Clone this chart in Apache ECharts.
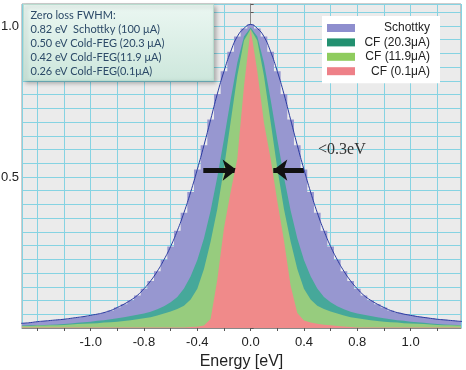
<!DOCTYPE html>
<html><head><meta charset="utf-8">
<script src="https://cdn.jsdelivr.net/npm/echarts@6/dist/echarts.min.js"></script>
<style>html,body{margin:0;padding:0;background:#fff;}#c{width:466px;height:370px;}</style>
</head><body><div id="c"></div>
<script>
const energies = [-1.75,-1.7,-1.65,-1.6,-1.55,-1.5,-1.45,-1.4,-1.35,-1.3,-1.25,-1.2,-1.15,-1.1,-1.05,-1,-0.95,-0.9,-0.85,-0.8,-0.75,-0.7,-0.65,-0.6,-0.55,-0.5,-0.45,-0.4,-0.35,-0.3,-0.25,-0.2,-0.15,-0.1,-0.05,0,
  0.05,0.1,0.15,0.2,0.25,0.3,0.35,0.4,0.45,0.5,0.55,0.6,0.65,0.7,0.75,0.8,0.85,0.9,0.95,1,1.05,1.1,1.15,1.2,1.25,1.3,1.35,1.4,1.45,1.5,1.55,1.6];
const schottky = [.015,.016,.018,.021,.023,.025,.027,.029,.032,.035,.038,.042,.046,.051,.058,.068,.079,.092,.108,.130,.156,.188,.226,.270,.322,.382,.450,.525,.605,.690,.775,.850,.915,.965,.992,1.005,
  .992,.965,.915,.850,.775,.690,.605,.525,.450,.382,.322,.270,.226,.188,.156,.130,.108,.092,.079,.068,.058,.051,.046,.042,.038,.035,.032,.029,.027,.025,.023,.021];
const cf203 = [.008,.008,.009,.009,.010,.011,.012,.013,.015,.017,.019,.021,.024,.026,.029,.032,.036,.040,.044,.048,.054,.062,.072,.085,.103,.131,.171,.225,.297,.389,.500,.625,.757,.878,.965,.995,
  .965,.878,.757,.625,.500,.389,.297,.225,.171,.131,.103,.085,.072,.062,.054,.048,.044,.040,.036,.032,.029,.026,.024,.021,.019,.017,.015,.013,.012,.011,.010,.009];
const cf119 = [.007,.007,.007,.008,.008,.009,.009,.010,.012,.013,.014,.015,.016,.018,.019,.021,.023,.026,.029,.032,.036,.041,.048,.055,.063,.074,.094,.130,.195,.286,.394,.529,.682,.835,.952,.990,
  .952,.835,.682,.529,.394,.286,.195,.130,.094,.074,.063,.055,.048,.041,.036,.032,.029,.026,.023,.021,.019,.018,.016,.015,.014,.013,.012,.010,.009,.009,.008,.008];
const cf01 = [.002,.002,.002,.002,.002,.002,.002,.002,.002,.002,.002,.002,.002,.002,.002,.002,.002,.002,.002,.002,.002,.002,.002,.002,.002,.002,.003,.004,.008,.030,.160,.330,.450,.560,.800,.990,
  .850,.680,.560,.420,.290,.140,.050,.025,.018,.014,.011,.009,.007,.005,.003,.002,.002,.002,.002,.002,.002,.002,.002,.002,.002,.002,.002,.002,.002,.002,.002,.002];
const seriesNames = ['Schottky', 'CF (20.3\u03bcA)', 'CF (11.9\u03bcA)', 'CF (0.1\u03bcA)'];
const xTickLabels = {'-1.2':'-1.0','-0.8':'-0.8','-0.4':'-0.4','0':'0.0','0.4':'0.4','0.8':'0.8','1.2':'1.0'};
const yTickLabels = {'0.5':'0.5','1':'1.0'};
const fwhmLines = ['Zero loss FWHM:', '0.82 eV  Schottky (100 \u03bcA)', '0.50 eV Cold-FEG (20.3 \u03bcA)', '0.42 eV Cold-FEG(11.9 \u03bcA)', '0.26 eV Cold-FEG(0.1\u03bcA)'];
const arrowSpans = [[[-0.355, 0.523], [-0.105, 0.523]], [[0.40, 0.523], [0.17, 0.523]]];
const arrowNote = '<0.3eV';

const pts = vals => energies.map((e, i) => [e, vals[i]]);
const fills = ['#9797d0', '#46a89a', '#97cc7e', '#f08a8a'];
const legendCols = ['#8e8ece', '#229070', '#8fcc5e', '#ee8088'];
const sans = '"Liberation Sans", Arial, sans-serif';

const chart = echarts.init(document.getElementById('c'), null, {renderer: 'canvas'});
const areaSeries = (name, vals, fill, z, step) => ({
  name, type: 'line', data: pts(vals), symbol: 'none', step: step || false,
  lineStyle: {width: 0, color: fill}, itemStyle: {color: fill},
  areaStyle: {color: fill, opacity: 1}, z
});
const series = [
  areaSeries(seriesNames[0], schottky, fills[0], 2, 'middle'),
  areaSeries(seriesNames[1], cf203, fills[1], 3),
  areaSeries(seriesNames[2], cf119, fills[2], 4),
  Object.assign(areaSeries(seriesNames[3], cf01, fills[3], 5), {
    markLine: {
      silent: true, symbol: ['none', 'arrow'], symbolSize: [16, 14], animation: false,
      lineStyle: {color: '#111', width: 5, type: 'solid'}, label: {show: false},
      data: arrowSpans.map(a => [{coord: a[0]}, {coord: a[1]}])
    }
  }),
  {name: 'fit', type: 'line', data: pts(schottky), smooth: 0.5, symbol: 'none',
   lineStyle: {color: '#2a3aa0', width: 1}, z: 6}
];

chart.setOption({
  animation: false,
  textStyle: {fontFamily: sans},
  grid: {left: 22, right: 5, top: 4, bottom: 42, containLabel: false, outerBoundsMode: 'none',
         show: true, backgroundColor: '#ebebeb', borderColor: '#9a9a9a', borderWidth: 1},
  xAxis: {
    type: 'value', min: -1.715, max: 1.578, splitNumber: 16,
    axisLine: {show: true, lineStyle: {color: '#888'}},
    axisTick: {show: true, length: 3, lineStyle: {color: '#555'}},
    splitLine: {show: true, lineStyle: {color: '#86d3e2', width: 1}},
    axisLabel: {showMinLabel: false, showMaxLabel: false, fontSize: 13, color: '#222', margin: 8,
      formatter: v => xTickLabels[String(Math.round(v * 10) / 10)] || ''},
    name: 'Energy [eV]', nameLocation: 'middle', nameGap: 25,
    nameTextStyle: {fontSize: 16, color: '#222'}
  },
  yAxis: {
    type: 'value', min: 0, max: 1.0728, interval: 0.5 / 11,
    axisLine: {show: true, lineStyle: {color: '#888'}},
    axisTick: {show: true, inside: true, length: 3, lineStyle: {color: '#555'}},
    splitLine: {show: true, lineStyle: {color: '#86d3e2', width: 1}},
    axisLabel: {fontSize: 13, color: '#222', margin: 3,
      formatter: v => yTickLabels[String(Math.round(v * 100) / 100)] || ''}
  },
  legend: {
    orient: 'vertical', left: 322, top: 16, itemWidth: 28, itemHeight: 8, itemGap: 2.4,
    padding: [6, 10, 6, 5], backgroundColor: '#fff', icon: 'rect',
    formatter: n => '{r|' + n + '}',
    textStyle: {fontSize: 12, color: '#222', rich: {r: {width: 70, align: 'right', fontSize: 12}}},
    data: seriesNames.map((n, i) => ({name: n, itemStyle: {color: legendCols[i]}}))
  },
  graphic: [
    {type: 'group', left: 23, top: 4, z: 100, children: [
      {type: 'rect', z: 100, shape: {x: 0, y: 0, width: 190, height: 76},
       style: {fill: {type: 'linear', x: 0, y: 0, x2: 0, y2: 1, colorStops: [{offset: 0, color: '#ebf7f2'}, {offset: 1, color: '#cde7dc'}]},
               stroke: '#b9dccf', lineWidth: 1, shadowBlur: 4, shadowOffsetX: 2, shadowOffsetY: 2, shadowColor: 'rgba(0,0,0,0.25)'}},
      {type: 'text', z: 101, style: {x: 7, y: 4, text: fwhmLines.join('\n'), font: '11px Lato', fill: '#2c4a68', lineHeight: 14}}
    ]},
    {type: 'text', left: 318, top: 142, z: 100, style: {text: arrowNote, font: '16px "Liberation Serif", serif', fill: '#333'}}
  ],
  series
});
</script></body></html>
